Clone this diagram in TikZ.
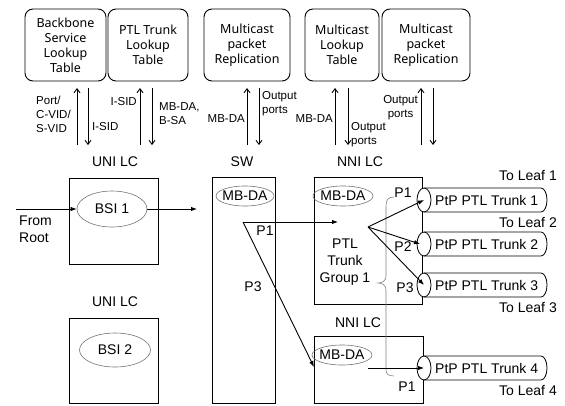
\documentclass[tikz,border=0pt]{standalone}
\usepackage{fontspec}
\setmainfont{Liberation Sans}
\newfontfamily\boxfont{Noto Sans}
\usetikzlibrary{arrows.meta,shapes.geometric}

\tikzset{
  lookup/.style={draw, rounded corners=8pt, line width=0.9pt, minimum height=72pt,
    align=center, inner sep=0pt, font=\boxfont\fontsize{12.5}{15}\selectfont},
  card/.style={draw, line width=0.8pt, inner sep=0pt},
  oval/.style={ellipse, draw=black!55, line width=0.6pt, inner sep=0pt,
    label={[font=\fontsize{14}{17}\selectfont, inner sep=0pt]center:#1}},
  port/.style={ellipse, draw, fill=white, line width=0.8pt, inner sep=0pt,
    minimum width=14pt, minimum height=24pt},
  small/.style={inner sep=1pt, font=\fontsize{11.5}{14}\selectfont},
  big/.style={inner sep=1pt, font=\fontsize{14}{17}\selectfont},
  arr/.style={-{Latex[length=6pt,width=4.5pt]}, line width=0.9pt},
  vtip/.style={-{Straight Barb[length=4pt,width=6pt]}, line width=0.9pt},
  bracepath/.style={draw=black!50, line width=0.6pt},
}

\begin{document}
\begin{tikzpicture}[x=1pt,y=-1pt]
\useasboundingbox (0,0) rectangle (565,405);

% function tables
\node[lookup, minimum width=81pt] (bsl)  at (65.5,45) {Backbone\\Service\\Lookup\\Table};
\node[lookup, minimum width=80pt] (ptl)  at (148,45)  {PTL Trunk\\Lookup\\Table};
\node[lookup, minimum width=86pt] (mpr1) at (247,45)  {Multicast\\packet\\Replication};
\node[lookup, minimum width=74pt] (mlt)  at (342,45)  {Multicast\\Lookup\\Table};
\node[lookup, minimum width=88pt] (mpr2) at (426,45)  {Multicast\\packet\\Replication};

% request / response arrows under the tables
\foreach \n/\u/\d in {1/77/88, 2/140/152, 3/247/259, 4/335/348, 5/421/433} {
  \coordinate (up\n a) at (\u,145);
  \coordinate (up\n b) at (\u,88);
  \coordinate (dn\n a) at (\d,88);
  \coordinate (dn\n b) at (\d,145);
  \draw[vtip] (up\n a) -- (up\n b);
  \draw[vtip] (dn\n a) -- (dn\n b);
}

\node[small, anchor=west, align=left]  (l1a) at (35,114)  {Port/\\C-VID/\\S-VID};
\node[small, anchor=west]              (l1b) at (91,127)  {I-SID};
\node[small, anchor=east]              (l2a) at (138,102) {I-SID};
\node[small, anchor=west, align=left]  (l2b) at (158,114) {MB-DA,\\B-SA};
\node[small, anchor=east]              (l3a) at (246,119) {MB-DA};
\node[small, anchor=west, align=left]  (l3b) at (261,104) {Output\\ports};
\node[small, anchor=east]              (l4a) at (334,119) {MB-DA};
\node[small, anchor=west, align=left]  (l4b) at (350,135) {Output\\ports};
\node[small, anchor=east, align=center](l5a) at (419,108) {Output\\ports};

% card titles
\node[big] (unilc1) at (115,162) {UNI LC};
\node[big] (swl)    at (242,162) {SW};
\node[big] (nnilc1) at (360,162) {NNI LC};
\node[big] (unilc2) at (115,302) {UNI LC};
\node[big] (nnilc2) at (358,323) {NNI LC};

% line cards and switch fabric
\node[card, minimum width=89pt,  minimum height=86pt]  (uni1) at (113.5,221)   {};
\node[card, minimum width=89pt,  minimum height=85pt]  (uni2) at (113.5,360.5) {};
\node[card, minimum width=63pt,  minimum height=226pt] (sw)   at (243.5,290)   {};
\node[card, minimum width=108pt, minimum height=127pt] (nni1) at (368,240.5)   {};
\node[card, minimum width=109pt, minimum height=67pt]  (nni2) at (368.5,369.5) {};

% service instances and MB-DA lookups
\node[oval=BSI 1, minimum width=70pt, minimum height=36pt] (bsi1) at (112,209) {};
\node[oval=BSI 2, minimum width=71pt, minimum height=34pt] (bsi2) at (115,350) {};
\node[oval=MB-DA, minimum width=58pt, minimum height=20pt] (mbsw) at (245,196) {};
\node[oval=MB-DA, minimum width=60pt, minimum height=20pt] (mbn1) at (343,196) {};
\node[oval=MB-DA, minimum width=60pt, minimum height=20pt] (mbn2) at (342,355) {};

% point-to-point PTL trunks
\foreach \i/\y in {1/200, 2/244, 3/285, 4/368} {
  \draw[line width=0.8pt] (424,\y-12) -- (541,\y-12)
    arc[start angle=90, end angle=-90, x radius=6pt, y radius=12pt] -- (424,\y+12);
  \node[port] (p\i) at (424,\y) {};
  \node[big, anchor=west] (t\i) at (434,\y) {PtP PTL Trunk \i};
}

\node[big, anchor=east] (leaf1) at (558,175) {To Leaf 1};
\node[big, anchor=east] (leaf2) at (558,222) {To Leaf 2};
\node[big, anchor=east] (leaf3) at (558,307) {To Leaf 3};
\node[big, anchor=east] (leaf4) at (558,390) {To Leaf 4};

% trunk group brace
\draw[bracepath] (394,197) .. controls (388,197) and (386,200) .. (386,206)
  -- (386,276) .. controls (386,281) and (382,283) .. (378,283)
  .. controls (382,283) and (386,285) .. (386,290)
  -- (386,369) .. controls (386,374) and (388,376) .. (394,376);

\node[big, align=center] (grp) at (345,262) {PTL\\Trunk\\Group 1};

% port labels
\node[big] (swp1)  at (265,231) {P1};
\node[big] (swp3)  at (253,287) {P3};
\node[big] (n1p1)  at (403,193) {P1};
\node[big] (n1p2)  at (403,247) {P2};
\node[big] (n1p3)  at (405,288) {P3};
\node[big] (n2p1)  at (407,387) {P1};

\node[big, anchor=west, align=left] (root) at (18,229) {From\\Root};

% packet flow
\coordinate (rootin) at (16,209);
\coordinate (swin)   at (197,209);
\coordinate (apex)   at (243,222);
\coordinate (tipA)   at (338,222);
\coordinate (tipB)   at (314,367);
\coordinate (fan)    at (368,227);
\coordinate (n2src)  at (368,368);

\draw[arr] (rootin) -- (bsi1.west);
\draw[arr] (bsi1.east) -- (swin);
\draw[arr] (apex) -- (tipA);
\draw[arr] (apex) -- (tipB);
\draw[arr] (fan) -- (p1.center);
\draw[arr] (fan) -- ([xshift=-4pt]p2.center);
\draw[arr] (fan) -- (p3.center);
\draw[arr] (n2src) -- (p4.center);
\end{tikzpicture}
\end{document}
